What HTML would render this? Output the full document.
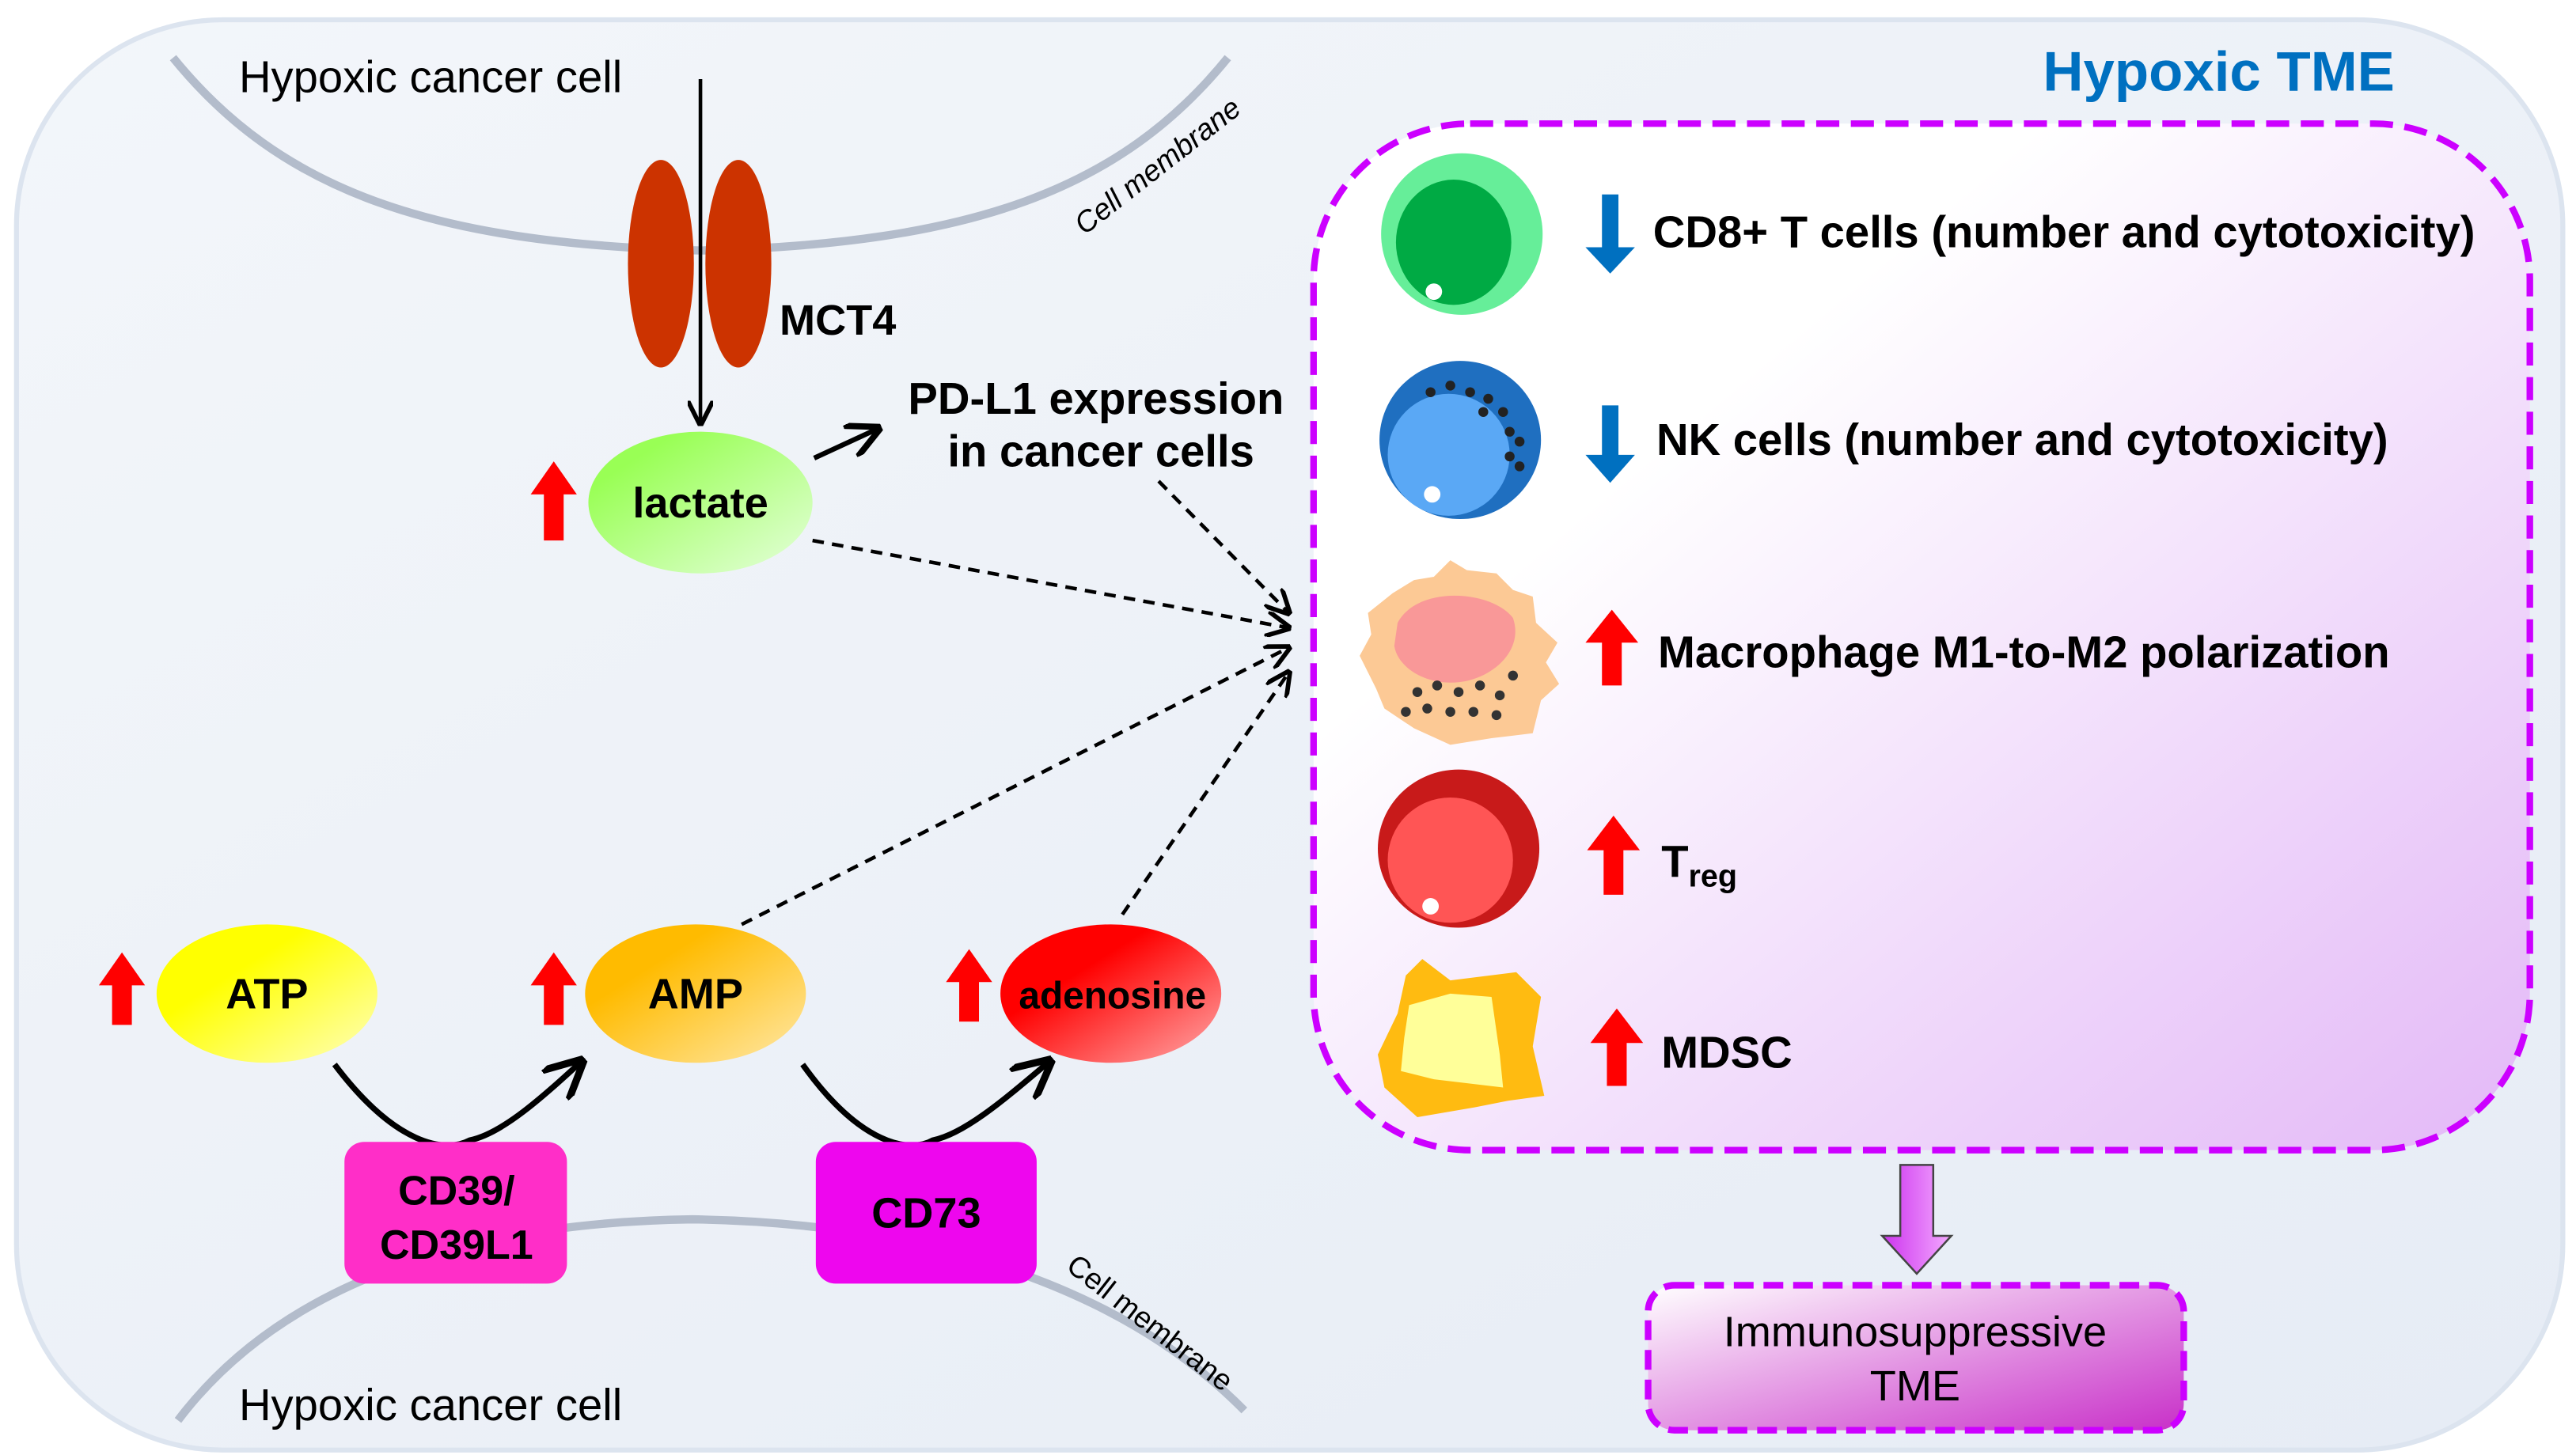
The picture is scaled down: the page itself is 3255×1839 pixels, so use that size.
<!DOCTYPE html>
<html><head><meta charset="utf-8"><style>
html,body{margin:0;padding:0;background:#fff;}
svg{display:block;}
text{font-family:"Liberation Sans",Arial,sans-serif;}
</style></head><body>
<svg width="3255" height="1839" viewBox="0 0 1563 883" xmlns="http://www.w3.org/2000/svg">
<defs>
<linearGradient id="bg" x1="0" y1="0" x2="1" y2="1"><stop offset="0" stop-color="#f3f6fa"/><stop offset="1" stop-color="#e6ecf5"/></linearGradient>
<linearGradient id="tme" x1="0" y1="0" x2="1" y2="1"><stop offset="0.3" stop-color="#ffffff"/><stop offset="1" stop-color="#e3b8f7"/></linearGradient>
<linearGradient id="imm" x1="0" y1="0" x2="1" y2="1"><stop offset="0" stop-color="#ffffff"/><stop offset="1" stop-color="#c830c8"/></linearGradient>
<linearGradient id="lac" x1="0" y1="0" x2="1" y2="1"><stop offset="0.2" stop-color="#99ff55"/><stop offset="1" stop-color="#e6ffdd"/></linearGradient>
<linearGradient id="atp" x1="0" y1="0" x2="1" y2="1"><stop offset="0.35" stop-color="#ffff00"/><stop offset="1" stop-color="#ffffbb"/></linearGradient>
<linearGradient id="amp" x1="0" y1="0" x2="1" y2="1"><stop offset="0.3" stop-color="#ffbb00"/><stop offset="1" stop-color="#ffe8a8"/></linearGradient>
<linearGradient id="ade" x1="0" y1="0" x2="1" y2="1"><stop offset="0.35" stop-color="#ff0000"/><stop offset="1" stop-color="#ffaaaa"/></linearGradient>
<linearGradient id="parr" x1="0" y1="0" x2="1" y2="0"><stop offset="0" stop-color="#cc33ee"/><stop offset="1" stop-color="#f4aaff"/></linearGradient>
<marker id="ah" viewBox="0 0 10 10" refX="9" refY="5" markerWidth="7" markerHeight="7" orient="auto"><path d="M0,0 L10,5 L0,10" fill="none" stroke="#000" stroke-width="1.8"/></marker>
</defs>

<rect x="10" y="12" width="1545" height="868" rx="125" fill="url(#bg)" stroke="#dce4ef" stroke-width="3"/>

<!-- top membrane -->
<path d="M105,35 C170,115 260,148 425,152 C590,148 680,115 745,35" fill="none" stroke="#b3bccb" stroke-width="5"/>
<text x="145" y="56" font-size="27">Hypoxic cancer cell</text>
<text x="0" y="0" font-size="18" font-style="italic" transform="translate(658,143) rotate(-38)">Cell membrane</text>

<!-- MCT4 -->
<ellipse cx="401" cy="160" rx="20" ry="63" fill="#cc3300"/>
<ellipse cx="448" cy="160" rx="20" ry="63" fill="#cc3300"/>
<line x1="425" y1="48" x2="425" y2="257" stroke="#000" stroke-width="2.2" marker-end="url(#ah)"/>
<text x="473" y="203" font-size="26" font-weight="bold">MCT4</text>

<!-- lactate -->
<ellipse cx="425" cy="305" rx="68" ry="43" fill="url(#lac)"/>
<text x="425" y="314" font-size="26" font-weight="bold" text-anchor="middle">lactate</text>
<path d="M330,328 L330,300 L322,300 L336,280 L350,300 L342,300 L342,328 z" fill="#ff0000"/>
<line x1="494" y1="278" x2="533" y2="260" stroke="#000" stroke-width="3" marker-end="url(#ah)"/>
<text x="665" y="251" font-size="27" font-weight="bold" text-anchor="middle">PD-L1 expression</text>
<text x="668" y="283" font-size="27" font-weight="bold" text-anchor="middle">in cancer cells</text>

<!-- dashed -->
<g stroke="#000" stroke-width="2.2" stroke-dasharray="7,5" fill="none">
<line x1="703" y1="292" x2="782" y2="372" marker-end="url(#ah)"/>
<line x1="493" y1="328" x2="782" y2="381" marker-end="url(#ah)"/>
<line x1="450" y1="561" x2="782" y2="393" marker-end="url(#ah)"/>
<line x1="681" y1="555" x2="782" y2="408" marker-end="url(#ah)"/>
</g>

<!-- bottom membrane -->
<path d="M108,862 C170,780 280,742 420,740 C560,742 680,780 755,856" fill="none" stroke="#b3bccb" stroke-width="5"/>
<text x="145" y="862" font-size="27">Hypoxic cancer cell</text>
<text x="0" y="0" font-size="18" transform="translate(646,770) rotate(38)">Cell membrane</text>

<!-- ATP AMP adenosine -->
<ellipse cx="162" cy="603" rx="67" ry="42" fill="url(#atp)"/>
<text x="162" y="612" font-size="26" font-weight="bold" text-anchor="middle">ATP</text>
<ellipse cx="422" cy="603" rx="67" ry="42" fill="url(#amp)"/>
<text x="422" y="612" font-size="26" font-weight="bold" text-anchor="middle">AMP</text>
<ellipse cx="674" cy="603" rx="67" ry="42" fill="url(#ade)"/>
<text x="675" y="612" font-size="23" font-weight="bold" text-anchor="middle">adenosine</text>
<path d="M68,622 L68,598 L60,598 L74,578 L88,598 L80,598 L80,622 z" fill="#ff0000"/>
<path d="M330,622 L330,598 L322,598 L336,578 L350,598 L342,598 L342,622 z" fill="#ff0000"/>
<path d="M582,620 L582,596 L574,596 L588,576 L602,596 L594,596 L594,620 z" fill="#ff0000"/>

<path d="M203,646 C240,695 270,700 285,692 C305,688 330,665 353,644" fill="none" stroke="#000" stroke-width="3.5" marker-end="url(#ah)"/>
<path d="M487,646 C522,695 552,700 566,692 C586,688 612,665 637,644" fill="none" stroke="#000" stroke-width="3.5" marker-end="url(#ah)"/>

<rect x="209" y="693" width="135" height="86" rx="12" fill="#ff2ec8"/>
<text x="277" y="731" font-size="25" font-weight="bold" text-anchor="middle">CD39/</text>
<text x="277" y="764" font-size="25" font-weight="bold" text-anchor="middle">CD39L1</text>
<rect x="495" y="693" width="134" height="86" rx="12" fill="#ee06ee"/>
<text x="562" y="745" font-size="26" font-weight="bold" text-anchor="middle">CD73</text>

<!-- TME -->
<text x="1453" y="55" font-size="34" font-weight="bold" fill="#0070c0" text-anchor="end">Hypoxic TME</text>
<rect x="797" y="75" width="738" height="623" rx="95" fill="url(#tme)" stroke="#cc00ff" stroke-width="4" stroke-dasharray="14,7"/>

<!-- CD8 -->
<ellipse cx="887" cy="142" rx="49" ry="49" fill="#66ee99"/>
<ellipse cx="882" cy="147" rx="35" ry="38" fill="#00aa44"/>
<circle cx="870" cy="177" r="5" fill="#fff"/>
<path d="M972,118 L972,150 L962,150 L977,166 L992,150 L982,150 L982,118 z" fill="#0070c0"/>
<text x="1003" y="150" font-size="27" font-weight="bold">CD8+ T cells (number and cytotoxicity)</text>

<!-- NK -->
<ellipse cx="886" cy="267" rx="49" ry="48" fill="#1f6fc0"/>
<ellipse cx="879" cy="276" rx="37" ry="37" fill="#5aa8f5"/>
<circle cx="869" cy="300" r="5" fill="#fff"/>
<g fill="#222"><circle cx="868" cy="238" r="3"/><circle cx="880" cy="234" r="3"/><circle cx="892" cy="238" r="3"/><circle cx="903" cy="242" r="3"/><circle cx="912" cy="250" r="3"/><circle cx="916" cy="262" r="3"/><circle cx="922" cy="268" r="3"/><circle cx="916" cy="277" r="3"/><circle cx="922" cy="283" r="3"/><circle cx="900" cy="250" r="3"/></g>
<path d="M972,246 L972,276 L962,276 L977,293 L992,276 L982,276 L982,246 z" fill="#0070c0"/>
<text x="1005" y="276" font-size="27" font-weight="bold">NK cells (number and cytotoxicity)</text>

<!-- Macrophage -->
<path d="M845,360 L858,352 L870,350 L880,340 L890,346 L908,348 L918,358 L930,362 L932,378 L945,390 L938,402 L946,415 L935,425 L930,445 L905,448 L880,452 L858,442 L840,430 L835,418 L825,398 L832,385 L830,372 z" fill="#fcc995"/>
<path d="M848,378 C860,355 905,358 918,375 C925,395 905,412 885,414 C865,416 848,405 846,392 z" fill="#f99898"/>
<g fill="#333"><circle cx="860" cy="420" r="3"/><circle cx="872" cy="416" r="3"/><circle cx="885" cy="420" r="3"/><circle cx="898" cy="416" r="3"/><circle cx="910" cy="422" r="3"/><circle cx="866" cy="430" r="3"/><circle cx="880" cy="432" r="3"/><circle cx="894" cy="432" r="3"/><circle cx="908" cy="434" r="3"/><circle cx="918" cy="410" r="3"/><circle cx="853" cy="432" r="3"/></g>
<path d="M972,416 L972,390 L962,390 L978,370 L994,390 L984,390 L984,416 z" fill="#ff0000"/>
<text x="1006" y="405" font-size="27" font-weight="bold">Macrophage M1-to-M2 polarization</text>

<!-- Treg -->
<ellipse cx="885" cy="515" rx="49" ry="48" fill="#c81a1a"/>
<ellipse cx="880" cy="522" rx="38" ry="38" fill="#ff5555"/>
<circle cx="868" cy="550" r="5" fill="#fff"/>
<path d="M973,543 L973,516 L963,516 L979,495 L995,516 L985,516 L985,543 z" fill="#ff0000"/>
<text x="1008" y="532" font-size="27" font-weight="bold">T<tspan font-size="19" dy="6">reg</tspan></text>

<!-- MDSC -->
<path d="M853,592 L863,582 L880,595 L920,590 L935,605 L930,635 L937,665 L915,668 L895,672 L860,678 L840,660 L836,640 L848,615 z" fill="#ffbb11"/>
<path d="M855,610 L880,603 L905,605 L910,640 L912,660 L870,655 L850,650 L852,630 z" fill="#ffff99"/>
<path d="M975,659 L975,633 L965,633 L981,612 L997,633 L987,633 L987,659 z" fill="#ff0000"/>
<text x="1008" y="648" font-size="27" font-weight="bold">MDSC</text>

<!-- purple arrow -->
<path d="M1153,707 L1173,707 L1173,750 L1184,750 L1163,773 L1142,750 L1153,750 z" fill="url(#parr)" stroke="#444" stroke-width="1.2"/>
<rect x="1000" y="780" width="325" height="88" rx="16" fill="url(#imm)" stroke="#cc00ff" stroke-width="4" stroke-dasharray="12,6"/>
<text x="1162" y="817" font-size="26" text-anchor="middle">Immunosuppressive</text>
<text x="1162" y="850" font-size="26" text-anchor="middle">TME</text>
</svg>
</body></html>
